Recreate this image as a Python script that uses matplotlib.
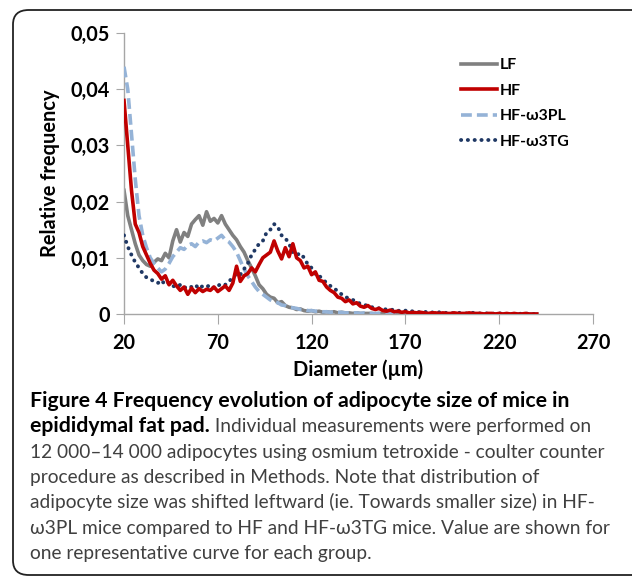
import matplotlib
matplotlib.use("Agg")
import matplotlib.pyplot as plt
from matplotlib.patches import FancyBboxPatch
from matplotlib.legend_handler import HandlerLine2D
import numpy as np

# --------- data ---------
diameter = np.arange(20, 241, 2)

lf = [0.0220, 0.0175, 0.0150, 0.0125, 0.0105, 0.0095, 0.0088, 0.0085, 0.0092, 0.0098,
      0.0095, 0.0108, 0.0100, 0.0130, 0.0150, 0.0128, 0.0145, 0.0138, 0.0160, 0.0168,
      0.0175, 0.0158, 0.0182, 0.0165, 0.0170, 0.0162, 0.0175, 0.0160, 0.0150, 0.0140,
      0.0132, 0.0120, 0.0110, 0.0095, 0.0082, 0.0068, 0.0052, 0.0045, 0.0035, 0.0030,
      0.0028, 0.0020, 0.0022, 0.0015, 0.0012, 0.0011, 0.0008, 0.0009, 0.0006, 0.0005,
      0.0006, 0.0004, 0.0005, 0.0003, 0.0004, 0.0003, 0.0004, 0.0002, 0.0003, 0.0002,
      0.0002, 0.0001, 0.0002, 0.0001, 0.0001, 0.0001, 0.0001, 0.0000, 0.0001, 0.0000,
      0, 0, 0, 0, 0, 0, 0, 0, 0, 0,
      0, 0, 0, 0, 0, 0, 0, 0, 0, 0,
      0, 0, 0, 0, 0, 0, 0, 0, 0, 0,
      0, 0, 0, 0, 0, 0, 0, 0, 0, 0,
      0]

hf = [0.0380, 0.0300, 0.0220, 0.0160, 0.0145, 0.0120, 0.0105, 0.0090, 0.0078, 0.0072,
      0.0062, 0.0068, 0.0052, 0.0060, 0.0050, 0.0042, 0.0048, 0.0035, 0.0046, 0.0038,
      0.0045, 0.0040, 0.0044, 0.0042, 0.0048, 0.0040, 0.0045, 0.0050, 0.0042, 0.0055,
      0.0085, 0.0058, 0.0068, 0.0072, 0.0082, 0.0075, 0.0088, 0.0100, 0.0105, 0.0110,
      0.0130, 0.0112, 0.0098, 0.0118, 0.0102, 0.0125, 0.0100, 0.0095, 0.0082, 0.0085,
      0.0070, 0.0075, 0.0060, 0.0058, 0.0048, 0.0042, 0.0038, 0.0030, 0.0028, 0.0022,
      0.0025, 0.0018, 0.0020, 0.0014, 0.0012, 0.0015, 0.0010, 0.0008, 0.0010, 0.0006,
      0.0005, 0.0007, 0.0004, 0.0005, 0.0003, 0.0004, 0.0002, 0.0003, 0.0002, 0.0003,
      0.0002, 0.0001, 0.0002, 0.0002, 0.0001, 0.0002, 0.0001, 0.0001, 0.0002, 0.0001,
      0.0001, 0.0001, 0.0002, 0.0001, 0.0001, 0.0001, 0.0000, 0.0001, 0.0001, 0.0000,
      0.0001, 0.0000, 0.0001, 0.0000, 0.0001, 0.0000, 0.0000, 0.0001, 0.0000, 0.0000,
      0.0000]

hf_w3pl = [0.0440, 0.0400, 0.0320, 0.0240, 0.0175, 0.0140, 0.0118, 0.0100, 0.0090, 0.0082,
           0.0075, 0.0080, 0.0090, 0.0102, 0.0110, 0.0118, 0.0115, 0.0122, 0.0125, 0.0120,
           0.0128, 0.0130, 0.0127, 0.0132, 0.0130, 0.0135, 0.0140, 0.0132, 0.0128, 0.0120,
           0.0110, 0.0095, 0.0080, 0.0068, 0.0058, 0.0048, 0.0040, 0.0035, 0.0030, 0.0025,
           0.0022, 0.0020, 0.0016, 0.0015, 0.0012, 0.0011, 0.0010, 0.0008, 0.0008, 0.0006,
           0.0006, 0.0005, 0.0005, 0.0004, 0.0004, 0.0003, 0.0004, 0.0003, 0.0003, 0.0002,
           0.0002, 0.0002, 0.0002, 0.0001, 0.0002, 0.0001, 0.0001, 0.0001, 0.0001, 0.0001,
           0.0001, 0.0001, 0.0001, 0.0001, 0.0001, 0.0000, 0.0001, 0.0000, 0.0001, 0.0000,
           0.0000, 0.0001, 0.0000, 0.0000, 0.0001, 0.0000, 0.0000, 0.0000, 0.0001, 0.0000,
           0.0000, 0.0000, 0.0000, 0.0001, 0.0000, 0.0000, 0.0000, 0.0000, 0.0000, 0.0000,
           0.0000, 0.0000, 0.0000, 0.0000, 0.0000, 0.0000, 0.0000, 0.0000, 0.0000, 0.0000,
           0.0000]

hf_w3tg = [0.0140, 0.0120, 0.0105, 0.0092, 0.0082, 0.0072, 0.0065, 0.0062, 0.0058, 0.0055,
           0.0060, 0.0052, 0.0056, 0.0050, 0.0048, 0.0052, 0.0046, 0.0050, 0.0048, 0.0052,
           0.0045, 0.0050, 0.0048, 0.0052, 0.0046, 0.0050, 0.0054, 0.0052, 0.0058, 0.0065,
           0.0072, 0.0070, 0.0080, 0.0090, 0.0105, 0.0115, 0.0125, 0.0130, 0.0145, 0.0150,
           0.0160, 0.0155, 0.0140, 0.0135, 0.0125, 0.0110, 0.0105, 0.0108, 0.0100, 0.0088,
           0.0082, 0.0070, 0.0068, 0.0062, 0.0055, 0.0050, 0.0046, 0.0040, 0.0035, 0.0030,
           0.0028, 0.0025, 0.0022, 0.0018, 0.0016, 0.0015, 0.0012, 0.0012, 0.0010, 0.0009,
           0.0008, 0.0007, 0.0008, 0.0006, 0.0005, 0.0006, 0.0004, 0.0005, 0.0004, 0.0003,
           0.0004, 0.0003, 0.0003, 0.0002, 0.0003, 0.0002, 0.0002, 0.0002, 0.0001, 0.0002,
           0.0002, 0.0001, 0.0001, 0.0002, 0.0001, 0.0001, 0.0001, 0.0001, 0.0001, 0.0000,
           0.0001, 0.0001, 0.0000, 0.0001, 0.0000, 0.0001, 0.0000, 0.0001, 0.0000, 0.0000,
           0.0000]

series_labels = ["LF", "HF", "HF-\u03c93PL", "HF-\u03c93TG"]
x_ticks = [20, 70, 120, 170, 220, 270]
y_ticks = [0, 0.01, 0.02, 0.03, 0.04, 0.05]
y_tick_labels = ["0", "0,01", "0,02", "0,03", "0,04", "0,05"]

caption_bold_1 = "Figure 4 Frequency evolution of adipocyte size of mice in"
caption_bold_2 = "epididymal fat pad."
caption_rest_2 = " Individual measurements were performed on"
caption_lines = [
    "12 000\u201314 000 adipocytes using osmium tetroxide - coulter counter",
    "procedure as described in Methods. Note that distribution of",
    "adipocyte size was shifted leftward (ie. Towards smaller size) in HF-",
    "\u03c93PL mice compared to HF and HF-\u03c93TG mice. Value are shown for",
    "one representative curve for each group.",
]

# --------- helpers ---------
W, H = 632, 579
fig = plt.figure(figsize=(W / 100, H / 100), dpi=100)
renderer = fig.canvas.get_renderer()


def fit_size(text, family, weight, target_px, base=12.0):
    # font size that makes `text` about target_px wide
    t = fig.text(0, 0, text, fontfamily=family, fontweight=weight, fontsize=base)
    w = t.get_window_extent(renderer=renderer).width
    t.remove()
    return base * target_px / w


# outer rounded frame
frame = FancyBboxPatch((13 / W, 1 - 575 / H), 1.05, (575 - 10) / H,
                       boxstyle="round,pad=0,rounding_size=0.025",
                       transform=fig.transFigure, fill=False,
                       edgecolor="#222222", linewidth=1.3)
fig.patches.append(frame)

ax = fig.add_axes([124 / W, 1 - 314 / H, (593 - 124) / W, (314 - 33) / H])
tick_font = "Lato"
tick_size = fit_size("0,05", tick_font, "bold", 39)

l_lf, = ax.plot(diameter, lf, color="#808080", lw=2.6, zorder=2, solid_joinstyle="round")
l_pl, = ax.plot(diameter, hf_w3pl, color="#95b3d7", lw=2.6, ls=(0, (3.0, 1.4)), zorder=3)
l_tg, = ax.plot(diameter, hf_w3tg, color="#1f3864", lw=2.8, ls=(0, (0.05, 1.7)),
                dash_capstyle="round", zorder=4)
l_hf, = ax.plot(diameter, hf, color="#c00000", lw=2.6, zorder=5, solid_joinstyle="round")

ax.set_xlim(20, 270)
ax.set_ylim(0, 0.05)
ax.set_xticks(x_ticks)
ax.set_xticklabels([str(v) for v in x_ticks])
ax.set_yticks(y_ticks)
ax.set_yticklabels(y_tick_labels)

for s in ["top", "right"]:
    ax.spines[s].set_visible(False)
for s in ["left", "bottom"]:
    ax.spines[s].set_color("#a6a6a6")
    ax.spines[s].set_linewidth(1.0)

ax.tick_params(axis="x", direction="out", length=7, color="#a6a6a6", pad=7)
ax.tick_params(axis="y", direction="out", length=6, color="#a6a6a6", pad=4)
for lab in ax.get_xticklabels() + ax.get_yticklabels():
    lab.set_fontfamily(tick_font)
    lab.set_fontweight("bold")
    lab.set_fontsize(tick_size)

xl_size = fit_size("Diameter (\u00b5m)", tick_font, "bold", 129)
yl_size = fit_size("Relative frequency", tick_font, "bold", 167)
ax.set_xlabel("Diameter (\u00b5m)", fontfamily=tick_font, fontweight="bold",
              fontsize=xl_size, va="center")
ax.xaxis.set_label_coords(0.5, (314 - 370) / 281)
ax.set_ylabel("Relative frequency", fontfamily=tick_font, fontweight="bold",
              fontsize=yl_size, va="center")
ax.yaxis.set_label_coords((50 - 124) / 469, 0.5)

# legend (order as in reference)
leg_size = fit_size("HF-\u03c93TG", tick_font, "bold", 70)
leg = ax.legend([l_lf, l_hf, l_pl, l_tg], series_labels,
                loc="upper left", bbox_to_anchor=(0.687, 0.962), frameon=False,
                handlelength=2.3, handletextpad=0.15, labelspacing=0.72,
                handler_map={matplotlib.lines.Line2D: HandlerLine2D(ypad=1.0)},
                prop={"family": tick_font, "weight": "bold", "size": leg_size})

# caption
cap_font = "Lato"
bold_size = fit_size(caption_bold_1, cap_font, "bold", 537)
reg_size = fit_size(caption_lines[0], cap_font, "normal", 574)
x0 = 30 / W
line_y = [407 + 25.33 * i for i in range(7)]
fig.text(x0, 1 - line_y[0] / H, caption_bold_1, fontfamily=cap_font,
         fontweight="bold", fontsize=bold_size, va="baseline")
t2 = fig.text(x0, 1 - line_y[1] / H, caption_bold_2, fontfamily=cap_font,
              fontweight="bold", fontsize=bold_size, va="baseline")
bb = t2.get_window_extent(renderer=renderer)
fig.text(bb.x1 / W, 1 - line_y[1] / H, caption_rest_2, fontfamily=cap_font,
         fontsize=reg_size, va="baseline", color="#404040")
for txt, yy in zip(caption_lines, line_y[2:]):
    fig.text(x0, 1 - yy / H, txt, fontfamily=cap_font, fontsize=reg_size,
             va="baseline", color="#404040")

fig.savefig("out.png", dpi=100)
